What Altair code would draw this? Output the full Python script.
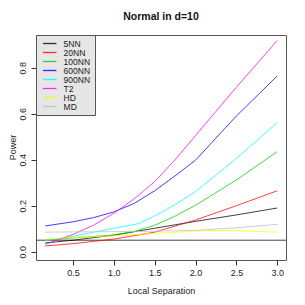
import altair as alt
import pandas as pd

series = ["5NN", "20NN", "100NN", "600NN", "900NN", "T2", "HD", "MD"]
colors = ["#000000", "#FF0000", "#00CD00", "#0000FF", "#00FFFF", "#FF00FF", "#FFFF00", "#BEBEBE"]

x_5nn = [0.16, 0.5, 1.0, 1.5, 2.0, 2.5, 3.0]
y_5nn = [0.038, 0.050, 0.072, 0.102, 0.132, 0.160, 0.190]

x_20nn = [0.16, 0.5, 1.0, 1.5, 2.0, 2.5, 3.0]
y_20nn = [0.025, 0.035, 0.055, 0.085, 0.138, 0.200, 0.265]

x_100nn = [0.16, 0.5, 1.0, 1.25, 1.5, 1.75, 2.0, 2.5, 3.0]
y_100nn = [0.050, 0.060, 0.073, 0.088, 0.115, 0.155, 0.202, 0.312, 0.435]

x_600nn = [0.16, 0.5, 0.75, 1.0, 1.25, 1.5, 1.75, 2.0, 2.5, 3.0]
y_600nn = [0.112, 0.130, 0.148, 0.173, 0.210, 0.265, 0.330, 0.398, 0.590, 0.764]

x_900nn = [0.16, 0.5, 1.0, 1.3, 1.5, 1.75, 2.0, 2.5, 3.0]
y_900nn = [0.048, 0.067, 0.102, 0.122, 0.155, 0.205, 0.262, 0.405, 0.562]

x_t2 = [0.16, 0.5, 0.75, 1.0, 1.25, 1.5, 1.75, 2.0, 2.5, 3.0]
y_t2 = [0.032, 0.075, 0.115, 0.167, 0.230, 0.305, 0.400, 0.505, 0.715, 0.918]

x_hd = [0.16, 0.5, 1.0, 1.5, 2.0, 2.4, 3.0]
y_hd = [0.055, 0.062, 0.069, 0.080, 0.090, 0.093, 0.085]

x_md = [0.16, 0.5, 1.0, 1.5, 2.0, 2.5, 3.0]
y_md = [0.085, 0.086, 0.087, 0.089, 0.093, 0.104, 0.119]

ref_level = [0.05]
x_ticks = [0.5, 1.0, 1.5, 2.0, 2.5, 3.0]
y_ticks = [0.0, 0.2, 0.4, 0.6, 0.8]

xs = [x_5nn, x_20nn, x_100nn, x_600nn, x_900nn, x_t2, x_hd, x_md]
ys = [y_5nn, y_20nn, y_100nn, y_600nn, y_900nn, y_t2, y_hd, y_md]

rows = []
for i, name in enumerate(series):
    for j, (xv, yv) in enumerate(zip(xs[i], ys[i])):
        rows.append({"series": name, "order": i, "x": xv, "y": yv, "idx": j})
df = pd.DataFrame(rows)

FONT = "Liberation Sans"

xscale = alt.Scale(domain=[0.047, 3.107], nice=False, zero=False)
yscale = alt.Scale(domain=[-0.036, 0.942], nice=False, zero=False)

xaxis = alt.Axis(values=x_ticks, format=".1f", domain=False, grid=False,
                 tickSize=5, tickColor="#333333", labelColor="#222222",
                 labelFontSize=9, labelFont=FONT, labelPadding=3,
                 title="Local Separation", titleFont=FONT, titleFontSize=9,
                 titleFontWeight="normal", titleColor="#222222", titlePadding=9)
yaxis = alt.Axis(values=y_ticks, format=".1f", domain=False, grid=False,
                 tickSize=5, tickColor="#333333", labelColor="#222222",
                 labelFontSize=9, labelFont=FONT, labelAngle=270,
                 labelAlign="center", labelBaseline="bottom", labelPadding=4,
                 title="Power", titleFont=FONT, titleFontSize=9,
                 titleFontWeight="normal", titleColor="#222222",
                 titleX=-24, titleY=112, titleAlign="center",
                 titleBaseline="middle", titleAngle=270)

rule = alt.Chart(pd.DataFrame({"level": ref_level})).mark_rule(
    strokeWidth=1, color="#444444"
).encode(
    y=alt.Y("level:Q", scale=yscale, axis=yaxis),
)

lines = alt.Chart(df).mark_line(strokeWidth=1, strokeOpacity=0.75).encode(
    x=alt.X("x:Q", scale=xscale, axis=xaxis),
    y=alt.Y("y:Q", scale=yscale, axis=yaxis),
    color=alt.Color("series:N",
                    scale=alt.Scale(domain=series, range=colors),
                    legend=alt.Legend(title=None, orient="none", legendX=0, legendY=0,
                                      fillColor="#E6E6E6", strokeColor="#555555",
                                      padding=4, symbolType="M-0.44,0H3.38", symbolSize=50,
                                      symbolStrokeWidth=1.3, symbolOpacity=0.8,
                                      labelFont=FONT, labelFontSize=8.5,
                                      labelColor="#222222", rowPadding=0, labelOffset=14.6,
                                      labelLimit=60)),
    order="idx:Q",
    detail="series:N",
)

chart = alt.layer(rule, lines).properties(
    width=250, height=225,
    title=alt.TitleParams("Normal in d=10", font=FONT, fontSize=10.5, fontWeight="bold",
                          color="#111111", anchor="middle", offset=12),
    padding={"left": 28, "top": 27, "right": 10, "bottom": 40},
    autosize=alt.AutoSizeParams(type="none"),
).configure_view(stroke="#555555", strokeWidth=1)

chart.save("out.html", embed_options={"renderer": "svg", "actions": False})
